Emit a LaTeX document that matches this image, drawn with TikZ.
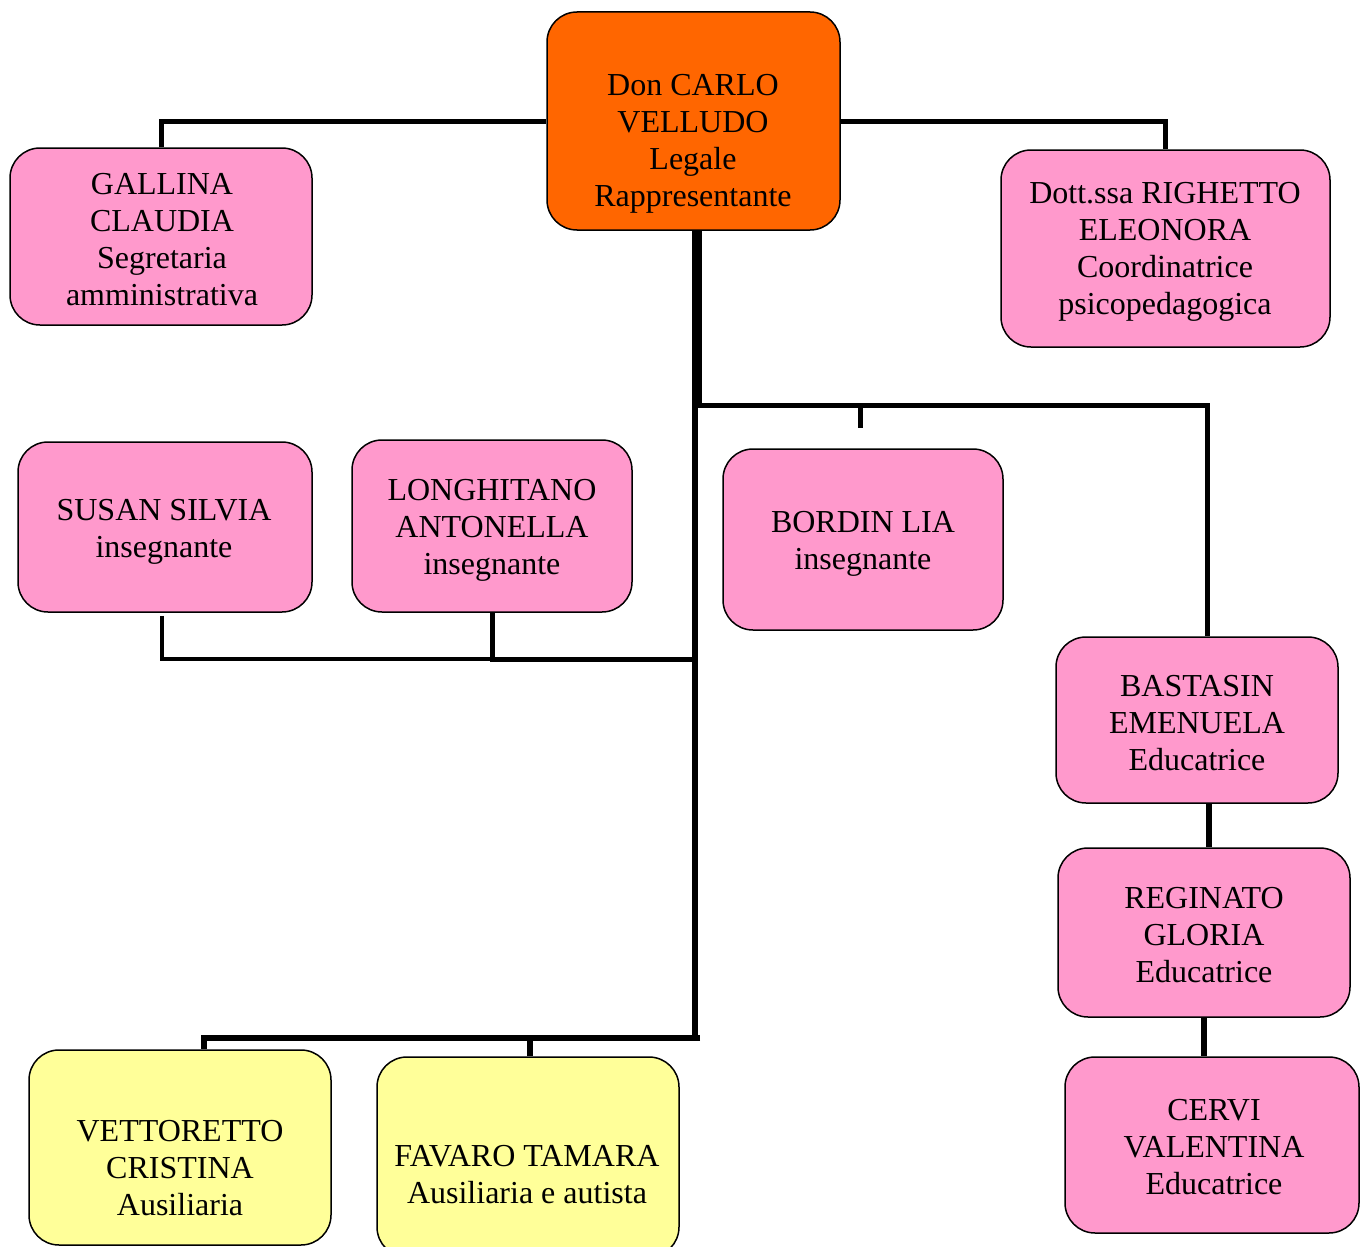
\documentclass[tikz,border=0pt]{standalone}
\usepackage{fontspec}
\setmainfont{Liberation Serif}
\usetikzlibrary{calc}
\definecolor{pinkc}{HTML}{FF99CC}
\definecolor{orangec}{HTML}{FF6600}
\definecolor{yellowc}{HTML}{FFFF99}
\begin{document}
\begin{tikzpicture}[x=1pt,y=-1pt,
  box/.style={draw=black, line width=1.5pt, rounded corners=30pt, inner sep=0pt},
  pinkbox/.style={box, fill=pinkc},
  orangebox/.style={box, fill=orangec},
  yellowbox/.style={box, fill=yellowc},
  txt/.style={align=center, inner sep=0pt, font=\fontsize{32}{37}\selectfont},
  conn/.style={line width=5pt},
  thinconn/.style={line width=4pt},
  trunk/.style={line width=10pt}]
\useasboundingbox (0,0) rectangle (1361,1247);
% boxes
\node[orangebox, minimum width=293pt, minimum height=218pt] (don) at (693.5,121) {};
\node[pinkbox, minimum width=302pt, minimum height=177pt] (gallina) at (161,236.5) {};
\node[pinkbox, minimum width=329pt, minimum height=197pt] (righetto) at (1165.5,248.5) {};
\node[pinkbox, minimum width=294pt, minimum height=170pt] (susan) at (165,527) {};
\node[pinkbox, minimum width=280pt, minimum height=172pt] (longhitano) at (492,526) {};
\node[pinkbox, minimum width=280pt, minimum height=181pt] (bordin) at (863,539.5) {};
\node[pinkbox, minimum width=282pt, minimum height=166pt] (bastasin) at (1197,720) {};
\node[pinkbox, minimum width=292pt, minimum height=169pt] (reginato) at (1204,932.5) {};
\node[pinkbox, minimum width=294pt, minimum height=176pt] (cervi) at (1212,1145) {};
\node[yellowbox, minimum width=302pt, minimum height=195pt] (vettoretto) at (180,1147.5) {};
\node[yellowbox, minimum width=302pt, minimum height=200pt] (favaro) at (528,1157) {};
% texts
\node[txt] (tdon) at (693,144) {Don CARLO\\VELLUDO\\Legale\\Rappresentante};
\node[txt] (tgallina) at (162,240) {GALLINA\\CLAUDIA\\Segretaria\\amministrativa};
\node[txt] (trighetto) at (1165,252) {Dott.ssa RIGHETTO\\ELEONORA\\Coordinatrice\\psicopedagogica};
\node[txt] (tsusan) at (164,532) {SUSAN SILVIA\\insegnante};
\node[txt] (tlonghitano) at (492,530) {LONGHITANO\\ANTONELLA\\insegnante};
\node[txt] (tbordin) at (863,544) {BORDIN LIA\\insegnante};
\node[txt] (tbastasin) at (1197,723) {BASTASIN\\EMENUELA\\Educatrice};
\node[txt] (treginato) at (1204,935) {REGINATO\\GLORIA\\Educatrice};
\node[txt] (tcervi) at (1214,1147) {CERVI\\VALENTINA\\Educatrice};
\node[txt] (tvettoretto) at (180,1168) {VETTORETTO\\CRISTINA\\Ausiliaria};
\node[txt] (tfavaro) at (527,1175) {FAVARO TAMARA\\Ausiliaria e autista};
% junction coordinates
\coordinate (j1) at (697,405);
\coordinate (j1b) at (695,405);
\coordinate (j2) at (694,659);
\coordinate (j3) at (695,1038);
\coordinate (tick) at (860,428);
% connectors
\draw[conn] (gallina.north) |- (don.west);
\draw[conn] (don.east) -| (righetto.north);
\draw[trunk] (don.south -| j1) -- (j1);
\draw[line width=6pt] ([yshift=4pt]j1b) -- (j3);
\draw[conn] ([xshift=-3pt]j1) -| ([xshift=10pt]bastasin.north);
\draw[conn] (tick |- j1) -- (tick);
\draw[thinconn] ([xshift=-3pt,yshift=-3pt]susan.south) |- (longhitano.south |- j2);
\draw[conn] (longhitano.south) |- (j2);
\draw[line width=6pt] ([xshift=5pt]j3) -| ([xshift=24pt]vettoretto.north);
\draw[line width=6pt] ([xshift=2pt]favaro.north) -- ([xshift=2pt]favaro.north |- j3);
\draw[line width=6pt] ([xshift=12pt]bastasin.south) -- ([xshift=12pt]bastasin.south |- reginato.north);
\draw[line width=6pt] (reginato.south) -- (reginato.south |- cervi.north);
\end{tikzpicture}
\end{document}
